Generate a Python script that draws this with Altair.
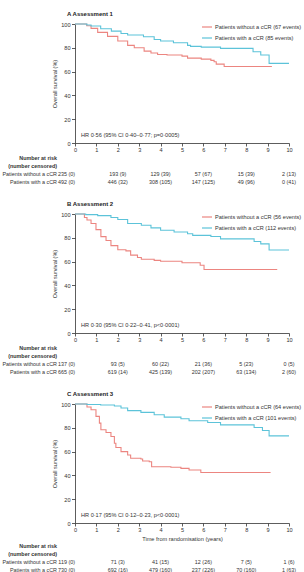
import altair as alt
import pandas as pd

FONT = "Liberation Sans"
RED = "#EC8580"
BLUE = "#5CC3D9"
TXT = "#333333"

TICKS = list(range(0, 11))
Y_TICKS = [0, 20, 40, 60, 80, 100]
RISK_T = [0, 2, 4, 6, 8, 10]
ROW_RED = "Patients without a cCR"
ROW_BLUE = "Patients with a cCR"

# ---- Panel A ----
a_red_t = [0, 0.55, 0.75, 1.06, 1.52, 2.0, 2.46, 2.77, 3.23, 3.55, 3.86, 4.3, 5.0, 5.26, 5.9, 6.35, 6.5, 6.6, 6.97, 9.2]
a_red_s = [100, 98.5, 96.3, 93, 89.6, 85.7, 82, 80, 77.2, 75.6, 74.4, 73.9, 73, 71.3, 70.5, 69.4, 68.3, 66.3, 64.3, 64.3]
a_blue_t = [0, 0.55, 0.75, 1.2, 1.7, 2.15, 2.46, 3.2, 3.7, 4.0, 4.6, 5.26, 5.4, 5.9, 6.8, 8.32, 8.68, 9.07, 10]
a_blue_s = [100, 99.2, 98.3, 96, 94, 92, 90.7, 89.3, 87, 85.7, 84.3, 82, 81.2, 80.6, 79.5, 76.7, 73.9, 66.9, 66.9]
a_risk_red = ["235 (0)", "193 (9)", "129 (39)", "57 (67)", "15 (39)", "2 (13)"]
a_risk_blue = ["492 (0)", "446 (32)", "308 (105)", "147 (125)", "49 (96)", "0 (41)"]

# ---- Panel B ----
b_red_t = [0, 0.44, 0.56, 0.75, 0.98, 1.21, 1.45, 1.68, 2.0, 2.38, 2.6, 2.92, 3.1, 3.7, 4.0, 5.0, 5.85, 6.03, 9.45]
b_red_s = [100, 97, 94.9, 92, 86.9, 81, 77.7, 73.4, 70, 69, 65.4, 63.4, 62, 61, 60.3, 59, 56.9, 53.4, 53.4]
b_blue_t = [0, 0.5, 1.06, 1.68, 2.0, 2.46, 3.1, 3.55, 4.0, 4.63, 5.26, 5.5, 6.35, 6.8, 8.37, 8.68, 9.07, 10]
b_blue_s = [100, 99.5, 98.6, 97.1, 95.4, 92, 90.6, 88.3, 86.3, 84.9, 83.4, 82, 81.1, 79.1, 76.9, 74.9, 69.7, 69.7]
b_risk_red = ["137 (0)", "93 (5)", "60 (22)", "21 (36)", "5 (23)", "0 (5)"]
b_risk_blue = ["665 (0)", "619 (14)", "425 (139)", "202 (207)", "63 (134)", "2 (60)"]

# ---- Panel C ----
c_red_t = [0, 0.56, 0.75, 0.98, 1.14, 1.21, 1.45, 1.68, 1.84, 1.91, 2.15, 2.46, 2.6, 3.08, 3.16, 3.47, 3.58, 4.48, 4.95, 5.33, 5.88, 9.14]
c_red_s = [100, 97.5, 95.2, 89.6, 83.9, 78.3, 76, 72.7, 67, 63.4, 60, 57.2, 54.4, 53.8, 52.1, 51.5, 47.3, 46.8, 45.9, 44.5, 42.5, 42.5]
c_blue_t = [0, 0.56, 1.2, 1.84, 2.15, 2.46, 3.08, 3.7, 4.17, 4.95, 5.33, 6.2, 6.8, 8.37, 8.76, 9.07, 10]
c_blue_s = [100, 99.6, 99.2, 98.3, 96.6, 94.4, 93, 91, 89, 87.6, 85.9, 84.5, 82.5, 80.3, 77.7, 73.2, 73.2]
c_risk_red = ["119 (0)", "71 (3)", "41 (15)", "12 (26)", "7 (5)", "1 (6)"]
c_risk_blue = ["730 (0)", "692 (16)", "479 (160)", "237 (226)", "70 (160)", "1 (63)"]

# HR annotation anchor (time, survival %)
HR_POS = (0.28, 6.5)

W, H = 214, 119
FS = 5.6
TFS = 5.4


def panel(title, red_t, red_s, blue_t, blue_s, n_red, n_blue, hr,
          risk_red, risk_blue, xtitle, dy):
    lab_red = f"Patients without a cCR ({n_red} events)"
    lab_blue = f"Patients with a cCR ({n_blue} events)"
    curves = pd.DataFrame({
        "t": red_t + blue_t,
        "s": red_s + blue_s,
        "g": [lab_red] * len(red_t) + [lab_blue] * len(blue_t),
    })
    xax = alt.Axis(values=TICKS, format="d", tickSize=3, labelPadding=1.5,
                   labelFontSize=FS, labelFont=FONT, labelColor=TXT,
                   labelOverlap=False, labelFlush=False, labelBound=False,
                   domainColor=TXT, tickColor=TXT, grid=False, domainWidth=0.8, tickWidth=0.8,
                   titleFont=FONT, titleFontSize=FS, titleFontWeight="normal",
                   titleColor=TXT, titlePadding=3)
    X = alt.X("t:Q", scale=alt.Scale(domain=[0, 10], nice=False), axis=xax,
              title=xtitle if xtitle else None)
    Y = alt.Y("s:Q", scale=alt.Scale(domain=[0, 100], nice=False),
              axis=alt.Axis(values=Y_TICKS, tickSize=3.5, labelPadding=1.5,
                            labelFontSize=FS, labelFont=FONT, labelColor=TXT,
                            labelOverlap=False, labelFlush=False, labelBound=False,
                            domainColor=TXT, tickColor=TXT, grid=False,
                            domainWidth=0.8, tickWidth=0.8,
                            title="Overall survival (%)", titleFont=FONT,
                            titleFontSize=FS, titleFontWeight="normal",
                            titleColor=TXT, titlePadding=3))
    color = alt.Color("g:N", scale=alt.Scale(domain=[lab_red, lab_blue], range=[RED, BLUE]),
                      legend=alt.Legend(title=None, orient="none", legendX=126, legendY=-3,
                                        symbolType="stroke", symbolSize=100,
                                        symbolStrokeWidth=1.2, labelFontSize=FS,
                                        labelFont=FONT, labelColor=TXT, labelOffset=2,
                                        rowPadding=1, padding=0, symbolOffset=0))
    lines = alt.Chart(curves).mark_line(interpolate="step-after", strokeWidth=1.1).encode(
        x=X, y=Y, color=color)

    hr_df = pd.DataFrame({"t": [HR_POS[0]], "s": [HR_POS[1]], "label": [hr]})
    hr_txt = alt.Chart(hr_df).mark_text(align="left", baseline="middle", fontSize=FS,
                                        font=FONT, color=TXT).encode(
        x=X, y=Y, text="label:N")

    risk = pd.DataFrame({
        "t": RISK_T + RISK_T,
        "label": risk_red + risk_blue,
        "row": [ROW_RED] * 6 + [ROW_BLUE] * 6,
    })
    layers = [lines, hr_txt]
    for row, ypx in [(ROW_RED, 150 + dy), (ROW_BLUE, 158 + dy)]:
        base = alt.Chart(risk).transform_filter(alt.datum.row == row)
        layers.append(base.transform_filter(alt.datum.t == 0).mark_text(
            align="right", baseline="middle", fontSize=TFS, font=FONT, color=TXT).encode(
            x=X, y=alt.value(ypx), text="label:N"))
        layers.append(base.transform_filter(alt.datum.t > 0).mark_text(
            align="center", baseline="middle", fontSize=TFS, font=FONT, color=TXT).encode(
            x=X, y=alt.value(ypx), text="label:N"))
    heads = ["Number at risk", "(number censored)", ROW_RED, ROW_BLUE]
    weights = ["bold", "bold", "normal", "normal"]
    yvals = [134 + dy, 142 + dy, 150 + dy, 158 + dy]
    head_df = pd.DataFrame({"h": heads})
    for i in range(4):
        layers.append(alt.Chart(head_df).transform_filter(alt.datum.h == heads[i]).mark_text(
            align="right", baseline="middle", fontSize=TFS, font=FONT, color=TXT,
            fontWeight=weights[i]).encode(
            x=alt.value(-18), y=alt.value(yvals[i]), text="h:N"))

    return alt.layer(*layers).properties(
        width=W, height=H,
        title=alt.TitleParams(text=title, anchor="start", frame="group", fontSize=6,
                              fontWeight="bold", font=FONT, color="#222", dx=-8, offset=4),
    )


pA = panel("A  Assessment 1", a_red_t, a_red_s, a_blue_t, a_blue_s, 67, 85,
           "HR 0·56 (95% CI 0·40–0·77; p=0·0005)", a_risk_red, a_risk_blue, None, 0)
pB = panel("B  Assessment 2", b_red_t, b_red_s, b_blue_t, b_blue_s, 56, 112,
           "HR 0·30 (95% CI 0·22–0·41, p<0·0001)", b_risk_red, b_risk_blue, None, 0)
pC = panel("C  Assessment 3", c_red_t, c_red_s, c_blue_t, c_blue_s, 64, 101,
           "HR 0·17 (95% CI 0·12–0·23, p<0·0001)", c_risk_red, c_risk_blue,
           "Time from randomisation (years)", 8)

chart = alt.vconcat(pA, pB, pC, spacing=15).resolve_scale(color="independent").properties(
    padding={"left": 2, "top": 11, "right": 0, "bottom": 0},
    background="white",
).configure_view(stroke=None).configure_axis(labelOverlap=False)

chart.save("out.html", embed_options={"renderer": "svg", "actions": False})
